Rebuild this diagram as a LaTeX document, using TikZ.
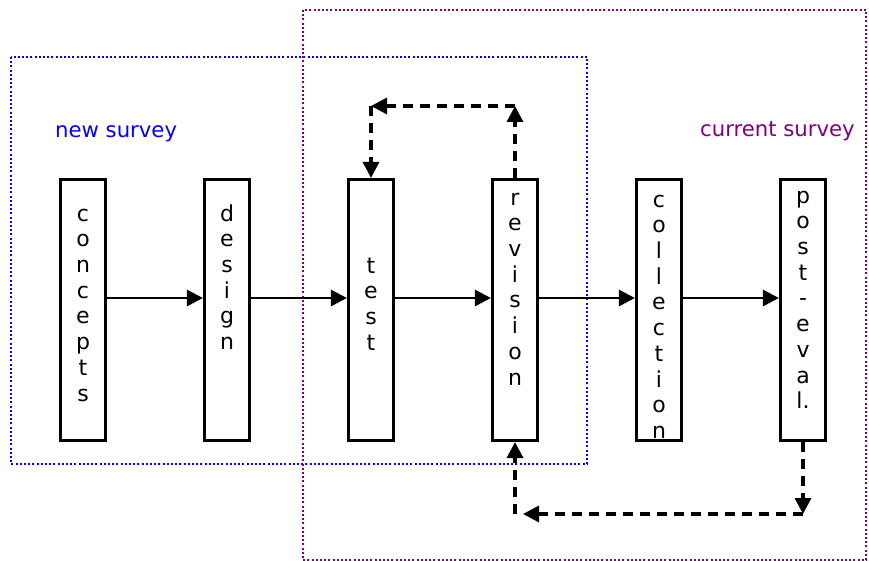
\documentclass[tikz,border=0pt]{standalone}
\usepackage{fontspec}
\setmainfont{DejaVu Sans}
\usetikzlibrary{arrows.meta}
\definecolor{nsblue}{RGB}{0,0,255}
\definecolor{cspurple}{RGB}{128,0,128}
\begin{document}
\begin{tikzpicture}[x=1pt,y=-1pt,
  stagebox/.style={draw=black,line width=2.6pt,fill=white,minimum width=45.5pt,minimum height=261.5pt,inner sep=0pt},
  stagetext/.style={align=center,inner sep=0pt,anchor=north,font=\fontsize{22}{25.7}\selectfont},
  flow/.style={line width=2.8pt,-{Triangle[length=16pt,width=16pt]}},
  loop/.style={line width=3.2pt,dash pattern=on 10pt off 7pt,-{Triangle[length=16pt,width=16pt]}},
  region/.style={line width=2pt,dash pattern=on 2pt off 2.2pt},
  regionlabel/.style={anchor=base west,inner sep=0pt,font=\fontsize{21.2}{25}\selectfont}]
\useasboundingbox (0,0) rectangle (869,561);
% regions
\draw[region,nsblue] (11,57) rectangle (587,464);
\draw[region,cspurple] (303,10) rectangle (866,560);
\node[regionlabel,text=nsblue] (newlbl) at (55,138) {new survey};
\node[regionlabel,text=cspurple] (curlbl) at (700,137) {current survey};
% boxes
\node[stagebox] (concepts) at (83,310) {};
\node[stagebox] (design) at (227,310) {};
\node[stagebox] (test) at (371,310) {};
\node[stagebox] (revision) at (515,310) {};
\node[stagebox] (collection) at (659,310) {};
\node[stagebox] (posteval) at (803,310) {};
% texts (first baseline minus strut height)
\node[stagetext] (concepts-t) at (83,203) {\strut c\\o\\n\\c\\e\\p\\t\\s};
\node[stagetext] (design-t) at (227,203) {\strut d\\e\\s\\i\\g\\n};
\node[stagetext] (test-t) at (371,255) {\strut t\\e\\s\\t};
\node[stagetext] (revision-t) at (515,187) {\strut r\\e\\v\\i\\s\\i\\o\\n};
\node[stagetext] (collection-t) at (659,189) {\strut c\\o\\l\\l\\e\\c\\t\\i\\o\\n};
\node[stagetext] (posteval-t) at (803,185) {\strut p\\o\\s\\t\\-\\e\\v\\a\\l.};
% main flow
\draw[flow] ([yshift=12pt]concepts.east) -- ([yshift=12pt]design.west);
\draw[flow] ([yshift=12pt]design.east) -- ([yshift=12pt]test.west);
\draw[flow] ([yshift=12pt]test.east) -- ([yshift=12pt]revision.west);
\draw[flow] ([yshift=12pt]revision.east) -- ([yshift=12pt]collection.west);
\draw[flow] ([yshift=12pt]collection.east) -- ([yshift=12pt]posteval.west);
% top loop
\coordinate (tr) at (515,106);
\coordinate (tl) at (371,106);
\draw[loop] (revision.north) -- (tr);
\draw[loop] (tr) -- (tl);
\draw[loop] (tl) -- (test.north);
% bottom loop
\coordinate (br) at (803,514);
\coordinate (bl) at (515,514);
\coordinate (blt) at (523,514);
\draw[loop] (posteval.south) -- (br);
\draw[loop] (br) -- (blt);
\draw[loop] (bl) -- (revision.south);
\end{tikzpicture}
\end{document}
